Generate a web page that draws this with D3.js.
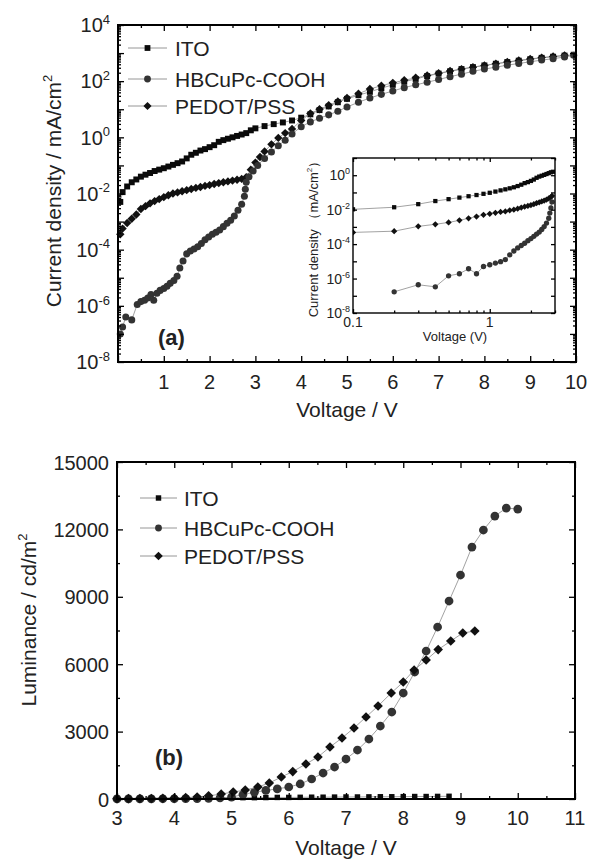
<!DOCTYPE html>
<html>
<head>
<meta charset="utf-8">
<script src="https://cdn.jsdelivr.net/npm/d3@7"></script>
<style>
  body { margin: 0; background: #fff; }
  svg { display: block; font-family: 'Liberation Sans', Arial, sans-serif; }
</style>
</head>
<body>
<svg id="chart" width="591" height="859"></svg>
<script>
// Current density (log10 of mA/cm2) vs voltage
const ivITO = [[0.05,-2.3],[0.1,-1.95],[0.2,-1.75],[0.3,-1.6],[0.4,-1.5],[0.5,-1.4],[0.6,-1.33],[0.7,-1.27],[0.8,-1.2],[0.9,-1.15],[1.0,-1.1],[1.1,-1.04],[1.2,-0.98],[1.3,-0.92],[1.4,-0.86],[1.5,-0.75],[1.6,-0.62],[1.7,-0.55],[1.8,-0.47],[1.9,-0.42],[2.0,-0.35],[2.1,-0.28],[2.2,-0.16],[2.3,-0.1],[2.4,-0.05],[2.5,0.0],[2.6,0.05],[2.7,0.1],[2.8,0.15],[2.9,0.25],[3.0,0.32],[3.2,0.4],[3.4,0.47],[3.6,0.53],[3.8,0.6],[4.0,0.7],[4.2,0.82],[4.4,0.97],[4.6,1.1],[4.8,1.25],[5.0,1.37],[5.25,1.5],[5.5,1.62],[5.75,1.75],[6.0,1.87],[6.25,1.98],[6.5,2.08],[6.75,2.18],[7.0,2.27],[7.25,2.35],[7.5,2.43],[7.75,2.5],[8.0,2.56],[8.25,2.62],[8.5,2.68],[8.75,2.73],[9.0,2.78],[9.25,2.83],[9.5,2.87],[9.75,2.91],[9.95,2.94]];
const ivHB = [[0.05,-7.0],[0.1,-6.75],[0.17,-6.4],[0.3,-6.5],[0.42,-5.95],[0.5,-5.85],[0.58,-5.8],[0.65,-5.72],[0.72,-5.6],[0.78,-5.8],[0.85,-5.55],[0.92,-5.45],[1.0,-5.38],[1.07,-5.3],[1.14,-5.2],[1.22,-5.1],[1.29,-4.95],[1.35,-4.65],[1.42,-4.4],[1.5,-4.15],[1.58,-4.05],[1.66,-3.98],[1.74,-3.9],[1.82,-3.78],[1.9,-3.65],[1.98,-3.55],[2.06,-3.45],[2.14,-3.38],[2.22,-3.3],[2.3,-3.18],[2.38,-3.06],[2.46,-2.95],[2.54,-2.8],[2.62,-2.6],[2.7,-2.38],[2.76,-2.1],[2.78,-1.85],[2.8,-1.6],[2.86,-1.4],[2.95,-1.2],[3.05,-1.0],[3.2,-0.75],[3.35,-0.52],[3.5,-0.3],[3.65,-0.1],[3.8,0.12],[4.0,0.38],[4.2,0.55],[4.4,0.68],[4.6,0.8],[4.8,0.93],[5.0,1.08],[5.25,1.25],[5.5,1.4],[5.75,1.53],[6.0,1.65],[6.25,1.77],[6.5,1.87],[6.75,1.96],[7.0,2.06],[7.25,2.16],[7.5,2.25],[7.75,2.35],[8.0,2.43],[8.25,2.5],[8.5,2.57],[8.75,2.63],[9.0,2.69],[9.25,2.75],[9.5,2.8],[9.75,2.86],[9.95,2.92]];
const ivPEDOT = [[0.05,-3.45],[0.1,-3.25],[0.2,-3.05],[0.3,-2.9],[0.4,-2.75],[0.5,-2.55],[0.6,-2.45],[0.7,-2.35],[0.8,-2.27],[0.9,-2.2],[1.0,-2.13],[1.1,-2.06],[1.2,-2.0],[1.3,-1.96],[1.4,-1.92],[1.5,-1.88],[1.6,-1.84],[1.7,-1.8],[1.8,-1.77],[1.9,-1.73],[2.0,-1.7],[2.1,-1.66],[2.2,-1.63],[2.3,-1.6],[2.4,-1.57],[2.5,-1.54],[2.6,-1.51],[2.7,-1.48],[2.8,-1.42],[2.9,-1.15],[3.0,-0.9],[3.1,-0.7],[3.2,-0.5],[3.35,-0.25],[3.5,-0.02],[3.65,0.15],[3.8,0.3],[4.0,0.6],[4.2,0.85],[4.4,1.0],[4.6,1.14],[4.8,1.28],[5.0,1.4],[5.25,1.55],[5.5,1.72],[5.75,1.84],[6.0,1.94],[6.25,2.03],[6.5,2.12],[6.75,2.2],[7.0,2.28],[7.25,2.36],[7.5,2.43],[7.75,2.5],[8.0,2.56],[8.25,2.62],[8.5,2.68],[8.75,2.74],[9.0,2.79],[9.25,2.84],[9.5,2.88],[9.75,2.92]];

// Inset (log-log), same units
const insetITO = [[0.1,-1.98],[0.2,-1.86],[0.3,-1.68],[0.4,-1.5],[0.5,-1.39],[0.6,-1.3],[0.7,-1.22],[0.8,-1.15],[0.9,-1.08],[1.0,-1.02],[1.1,-0.95],[1.2,-0.88],[1.3,-0.82],[1.4,-0.76],[1.5,-0.7],[1.6,-0.63],[1.7,-0.55],[1.8,-0.46],[1.9,-0.4],[2.0,-0.33],[2.1,-0.25],[2.2,-0.15],[2.3,-0.08],[2.4,-0.03],[2.5,0.02],[2.6,0.07],[2.7,0.12],[2.8,0.17],[2.9,0.2]];
const insetHB = [[0.2,-6.77],[0.3,-6.36],[0.4,-6.48],[0.5,-5.84],[0.6,-5.72],[0.7,-5.43],[0.8,-5.72],[0.9,-5.3],[1.0,-5.2],[1.1,-5.1],[1.2,-5.02],[1.3,-4.9],[1.4,-4.62],[1.5,-4.4],[1.6,-4.22],[1.7,-4.08],[1.8,-3.95],[1.9,-3.8],[2.0,-3.68],[2.1,-3.55],[2.2,-3.42],[2.3,-3.3],[2.4,-3.15],[2.5,-2.98],[2.6,-2.78],[2.7,-2.5],[2.75,-2.2],[2.8,-1.9],[2.85,-1.55]];
const insetPEDOT = [[0.1,-3.32],[0.2,-3.25],[0.3,-2.97],[0.4,-2.85],[0.5,-2.74],[0.6,-2.62],[0.7,-2.5],[0.8,-2.4],[0.9,-2.3],[1.0,-2.24],[1.1,-2.18],[1.2,-2.13],[1.3,-2.1],[1.4,-2.04],[1.5,-2.0],[1.6,-1.94],[1.7,-1.88],[1.8,-1.83],[1.9,-1.78],[2.0,-1.73],[2.1,-1.68],[2.2,-1.62],[2.3,-1.57],[2.4,-1.52],[2.5,-1.47],[2.6,-1.42],[2.7,-1.35],[2.8,-1.27],[2.85,-1.2]];

// Luminance (cd/m2) vs voltage
const lumITO = [[3.0,30],[3.2,30],[3.4,35],[3.6,35],[3.8,40],[4.0,40],[4.2,45],[4.4,45],[4.6,50],[4.8,50],[5.0,55],[5.2,60],[5.4,60],[5.6,65],[5.8,70],[6.0,70],[6.2,75],[6.4,80],[6.6,80],[6.8,85],[7.0,90],[7.2,90],[7.4,95],[7.6,100],[7.8,100],[8.0,105],[8.2,110],[8.4,110],[8.6,115],[8.8,120]];
const lumHB = [[3.0,5],[3.2,5],[3.4,5],[3.6,5],[3.8,10],[4.0,10],[4.2,15],[4.4,20],[4.6,30],[4.8,50],[5.0,80],[5.2,200],[5.4,300],[5.6,380],[5.8,450],[6.0,534],[6.2,668],[6.4,890],[6.6,1157],[6.8,1424],[7.0,1780],[7.2,2180],[7.4,2670],[7.6,3249],[7.8,3872],[8.0,4717],[8.2,5652],[8.4,6586],[8.6,7655],[8.8,8812],[9.0,9969],[9.2,11215],[9.4,11972],[9.6,12594],[9.8,12950],[10.0,12906]];
const lumPEDOT = [[3.0,10],[3.2,15],[3.4,20],[3.6,25],[3.8,35],[4.0,45],[4.2,60],[4.4,90],[4.6,140],[4.82,220],[5.03,312],[5.24,400],[5.46,534],[5.66,712],[5.87,979],[6.07,1220],[6.3,1558],[6.51,1869],[6.72,2314],[6.93,2715],[7.14,3160],[7.35,3649],[7.56,4139],[7.79,4717],[8.0,5207],[8.19,5741],[8.4,6186],[8.61,6650],[8.83,7032],[9.04,7388],[9.25,7477]];

const seriesNames = ['ITO', 'HBCuPc-COOH', 'PEDOT/PSS'];
const seriesShapes = ['square', 'circle', 'diamond'];

const ivXTicks = [1, 2, 3, 4, 5, 6, 7, 8, 9, 10];
const ivYExponents = [-8, -6, -4, -2, 0, 2, 4];
const insetYExponents = [-8, -6, -4, -2, 0];
const insetXTicks = [0.1, 1];
const lumXTicks = [3, 4, 5, 6, 7, 8, 9, 10, 11];
const lumYTicks = [0, 3000, 6000, 9000, 12000, 15000];

const svg = d3.select('#chart');
svg.append('rect').attr('width', 591).attr('height', 859).attr('fill', '#fff');

const LINE_COLOR = '#8a8a8a';
const MARK_COLOR = { square: '#0a0a0a', circle: '#333', diamond: '#111' };

function marker(g, shape, x, y, s) {
  // s = half size of the mark
  if (shape === 'circle') {
    g.append('circle').attr('cx', x).attr('cy', y).attr('r', s * 0.95).attr('fill', MARK_COLOR.circle);
  } else if (shape === 'square') {
    g.append('rect').attr('x', x - s * 0.85).attr('y', y - s * 0.85)
      .attr('width', s * 1.7).attr('height', s * 1.7).attr('fill', MARK_COLOR.square);
  } else {
    const d = s * 1.2;
    g.append('path').attr('d', `M${x},${y - d}L${x + d},${y}L${x},${y + d}L${x - d},${y}Z`)
      .attr('fill', MARK_COLOR.diamond);
  }
}

function drawSeries(g, data, x, y, shape, s, toY) {
  const pts = data.map(d => [x(d[0]), y(toY(d[1]))]);
  g.append('path').attr('d', d3.line()(pts))
    .attr('fill', 'none').attr('stroke', LINE_COLOR).attr('stroke-width', 0.8);
  pts.forEach(p => marker(g, shape, p[0], p[1], s));
}

// inward ticks on all four sides
function frameAxes(g, x, y, opts) {
  const [x0, x1] = x.range();
  const [y0, y1] = y.range(); // y0 bottom, y1 top
  const mk = (axis, vals, size, tx, ty) => {
    const a = g.append('g').attr('transform', `translate(${tx},${ty})`)
      .call(axis.tickValues(vals).tickSize(-size).tickFormat(''));
    a.select('.domain').remove();
    a.selectAll('line').attr('stroke', '#000').attr('stroke-width', 1.3);
  };
  [[opts.xMajor, opts.majorLen], [opts.xMinor, opts.minorLen]].forEach(([v, s]) => {
    mk(d3.axisBottom(x), v, s, 0, y0);
    mk(d3.axisTop(x), v, s, 0, y1);
  });
  [[opts.yMajor, opts.majorLen], [opts.yMinor, opts.minorLen]].forEach(([v, s]) => {
    mk(d3.axisLeft(y), v, s, x0, 0);
    mk(d3.axisRight(y), v, s, x1, 0);
  });
  g.append('rect').attr('x', x0).attr('y', y1).attr('width', x1 - x0).attr('height', y0 - y1)
    .attr('fill', 'none').attr('stroke', '#000').attr('stroke-width', opts.frameWidth);
}

function powLabels(g, y, exps, xRight, fs, supFs) {
  exps.forEach(e => {
    const t = g.append('text').attr('x', xRight).attr('y', y(Math.pow(10, e)) + fs * 0.36)
      .attr('text-anchor', 'end').attr('font-size', fs).attr('fill', '#222');
    t.append('tspan').text('10');
    t.append('tspan').attr('font-size', supFs).attr('dy', -fs * 0.42).text(String(e));
  });
}

function legend(g, x0, x1, xText, ys, fs, sizes) {
  seriesNames.forEach((name, i) => {
    g.append('line').attr('x1', x0).attr('x2', x1).attr('y1', ys[i]).attr('y2', ys[i])
      .attr('stroke', LINE_COLOR).attr('stroke-width', 0.9);
    marker(g, seriesShapes[i], (x0 + x1) / 2, ys[i], sizes[i]);
    g.append('text').attr('x', xText).attr('y', ys[i] + fs * 0.36).attr('font-size', fs)
      .attr('fill', '#222').text(name);
  });
}

function logMinor(lo, hi) {
  const out = [];
  for (let e = lo; e < hi; e++) {
    for (let k = 2; k <= 9; k++) out.push(k * Math.pow(10, e));
  }
  return out;
}

// ---------- panel (a) ----------
const xa = d3.scaleLinear().domain([0, 10]).range([118, 576]);
const ya = d3.scaleLog().domain([1e-8, 1e4]).range([362, 25]);
const ga = svg.append('g');
const toPow = v => Math.pow(10, v);

drawSeries(ga, ivITO, xa, ya, 'square', 3.5, toPow);
drawSeries(ga, ivPEDOT, xa, ya, 'diamond', 3.5, toPow);
drawSeries(ga, ivHB, xa, ya, 'circle', 3.7, toPow);

frameAxes(ga, xa, ya, {
  xMajor: d3.range(0, 10.01, 1), xMinor: d3.range(0.5, 10, 1),
  yMajor: d3.range(-8, 5).map(toPow), yMinor: logMinor(-8, 4),
  majorLen: 6, minorLen: 3, frameWidth: 2
});

ga.selectAll('text.xt').data(ivXTicks).join('text').attr('class', 'xt')
  .attr('x', d => xa(d)).attr('y', 389).attr('text-anchor', 'middle')
  .attr('font-size', 20).attr('fill', '#222').text(d => d);
powLabels(ga, ya, ivYExponents, 110, 20, 13);

ga.append('text').attr('x', 347).attr('y', 417).attr('text-anchor', 'middle')
  .attr('font-size', 21).attr('fill', '#222').text('Voltage / V');
const yta = ga.append('text').attr('transform', 'translate(61,191) rotate(-90)')
  .attr('text-anchor', 'middle').attr('font-size', 21).attr('fill', '#222');
yta.append('tspan').text('Current density / mA/cm');
yta.append('tspan').attr('font-size', 13).attr('dy', -9).text('2');

ga.append('text').attr('x', 158).attr('y', 345).attr('font-size', 22)
  .attr('font-weight', 'bold').attr('fill', '#222').text('(a)');

legend(ga, 128, 167, 175, [48, 79, 106], 21, [3.4, 3.6, 3.4]);

// ---------- inset ----------
const xi = d3.scaleLog().domain([0.1, 3]).range([353, 555]);
const yi = d3.scaleLog().domain([1e-8, 10]).range([313, 158]);
const gi = svg.append('g');
gi.append('rect').attr('x', 353).attr('y', 158).attr('width', 202).attr('height', 155).attr('fill', '#fff');
svg.append('clipPath').attr('id', 'insetClip').append('rect')
  .attr('x', 353).attr('y', 158).attr('width', 202).attr('height', 155);
const gid = gi.append('g').attr('clip-path', 'url(#insetClip)');
drawSeries(gid, insetITO, xi, yi, 'square', 2.5, toPow);
drawSeries(gid, insetPEDOT, xi, yi, 'diamond', 2.6, toPow);
drawSeries(gid, insetHB, xi, yi, 'circle', 2.8, toPow);

frameAxes(gi, xi, yi, {
  xMajor: [0.1, 1], xMinor: [0.2, 0.3, 0.4, 0.5, 0.6, 0.7, 0.8, 0.9, 2, 3],
  yMajor: d3.range(-8, 2).map(toPow), yMinor: [],
  majorLen: 4, minorLen: 2.5, frameWidth: 1.4
});
gi.selectAll('text.xt').data(insetXTicks).join('text').attr('class', 'xt')
  .attr('x', d => xi(d)).attr('y', 327).attr('text-anchor', 'middle')
  .attr('font-size', 14).attr('fill', '#222').text(d => d);
powLabels(gi, yi, insetYExponents, 350, 14, 9);
gi.append('text').attr('x', 455).attr('y', 341).attr('text-anchor', 'middle')
  .attr('font-size', 13).attr('fill', '#222').text('Voltage (V)');
const yti = gi.append('text').attr('transform', 'translate(318,236) rotate(-90)')
  .attr('text-anchor', 'middle').attr('font-size', 13).attr('fill', '#222');
yti.append('tspan').text('Current density （mA/cm');
yti.append('tspan').attr('font-size', 8).attr('dy', -6).text('2');
yti.append('tspan').attr('dy', 6).text('）');

// ---------- panel (b) ----------
const xb = d3.scaleLinear().domain([3, 11]).range([117, 575]);
const yb = d3.scaleLinear().domain([0, 15000]).range([799, 462]);
const gb = svg.append('g');
const ident = v => v;

drawSeries(gb, lumITO, xb, yb, 'square', 3.2, ident);
drawSeries(gb, lumHB, xb, yb, 'circle', 4.6, ident);
drawSeries(gb, lumPEDOT, xb, yb, 'diamond', 4.0, ident);

frameAxes(gb, xb, yb, {
  xMajor: d3.range(3, 11.01, 1), xMinor: d3.range(3.5, 11, 1),
  yMajor: lumYTicks, yMinor: d3.range(1500, 15000, 3000),
  majorLen: 6, minorLen: 3, frameWidth: 2
});
gb.selectAll('text.xt').data(lumXTicks).join('text').attr('class', 'xt')
  .attr('x', d => xb(d)).attr('y', 825).attr('text-anchor', 'middle')
  .attr('font-size', 20).attr('fill', '#222').text(d => d);
gb.selectAll('text.yt').data(lumYTicks).join('text').attr('class', 'yt')
  .attr('x', 109).attr('y', d => yb(d) + 7.5).attr('text-anchor', 'end')
  .attr('font-size', 20).attr('fill', '#222').text(d => d);

gb.append('text').attr('x', 346).attr('y', 855).attr('text-anchor', 'middle')
  .attr('font-size', 21).attr('fill', '#222').text('Voltage / V');
const ytb = gb.append('text').attr('transform', 'translate(36,620) rotate(-90)')
  .attr('text-anchor', 'middle').attr('font-size', 21).attr('fill', '#222');
ytb.append('tspan').text('Luminance / cd/m');
ytb.append('tspan').attr('font-size', 13).attr('dy', -9).text('2');

gb.append('text').attr('x', 155).attr('y', 765).attr('font-size', 22)
  .attr('font-weight', 'bold').attr('fill', '#222').text('(b)');

legend(gb, 140, 177, 184, [498, 528, 556], 21, [3.2, 3.6, 3.6]);
</script>
</body>
</html>
